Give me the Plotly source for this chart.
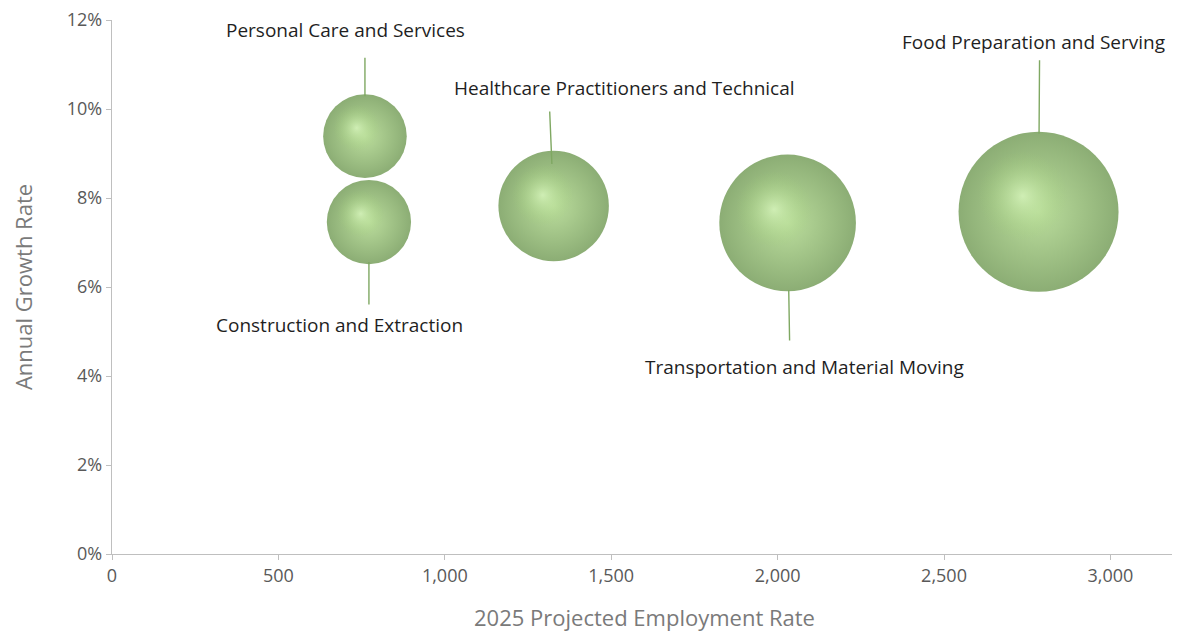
import math
import plotly.graph_objects as go

categories = ["Personal Care and Services", "Construction and Extraction",
              "Healthcare Practitioners and Technical", "Transportation and Material Moving",
              "Food Preparation and Serving"]
employment_2025 = [760, 772, 1327, 2030, 2784]
growth_rate = [0.0939, 0.0746, 0.0782, 0.0744, 0.0769]
bubble_size = [760, 772, 1327, 2030, 2784]
x_ticks = [0, 500, 1000, 1500, 2000, 2500, 3000]
y_ticks = [0, 0.02, 0.04, 0.06, 0.08, 0.10, 0.12]

# label placement (pixels): text shift, leader line tail, leader standoff
label_shift = [(-19, 106), (-29, -103), (71, 118), (17, -144), (-5, 170)]
leader_tail = [(0, -80), (0, 84), (-4, -96), (2, 119), (1, -153)]
leader_standoff = [40, 40, 42, 67, 78]

max_diam = 160
sizeref = 2 * max(bubble_size) / max_diam ** 2

X_RANGE = [0, 3200]
Y_RANGE = [0, 0.12]
FIG_W, FIG_H = 1172, 629
M_L, M_R, M_T, M_B = 104, 3, 12, 83
PLOT_W = FIG_W - M_L - M_R
PLOT_H = FIG_H - M_T - M_B

fig = go.Figure()
fig.add_trace(go.Scatter(
    x=employment_2025, y=growth_rate, mode="markers",
    marker=dict(size=bubble_size, sizemode="area", sizeref=sizeref,
                color="#5a8a39", line=dict(width=0),
                gradient=dict(type="radial", color="#9dce72")),
    text=categories, hoverinfo="text", showlegend=False))

# soft specular highlight per bubble, drawn on overlay axes offset up-left
extra_axes = {}
for i in range(len(categories)):
    r_px = math.sqrt(bubble_size[i] / sizeref) / 2
    off = 0.28 * r_px
    dx = off * (X_RANGE[1] - X_RANGE[0]) / PLOT_W
    dy = off * (Y_RANGE[1] - Y_RANGE[0]) / PLOT_H
    n = i + 2
    extra_axes[f"xaxis{n}"] = dict(range=[X_RANGE[0] + dx, X_RANGE[1] + dx], overlaying="x",
                                   visible=False, fixedrange=True)
    extra_axes[f"yaxis{n}"] = dict(range=[Y_RANGE[0] - dy, Y_RANGE[1] - dy], overlaying="y",
                                   visible=False, fixedrange=True)
    fig.add_trace(go.Scatter(
        x=[employment_2025[i]], y=[growth_rate[i]], mode="markers",
        xaxis=f"x{n}", yaxis=f"y{n}",
        marker=dict(size=[bubble_size[i]], sizemode="area", sizeref=sizeref * 3.2,
                    color="rgba(157,206,114,0)", line=dict(width=0),
                    gradient=dict(type="radial", color="rgba(224,253,198,0.95)")),
        hoverinfo="skip", showlegend=False))

label_font = dict(family="Open Sans", size=19, color="#1f1f1f")
for i, name in enumerate(categories):
    fig.add_annotation(x=employment_2025[i], y=growth_rate[i], text="",
                       showarrow=True, arrowhead=0, arrowwidth=1.4,
                       arrowcolor="#7fa862", ax=leader_tail[i][0], ay=leader_tail[i][1],
                       axref="pixel", ayref="pixel", standoff=leader_standoff[i])
    fig.add_annotation(x=employment_2025[i], y=growth_rate[i], text=name,
                       showarrow=False, xshift=label_shift[i][0], yshift=label_shift[i][1],
                       font=label_font)

tick_font = dict(family="Open Sans", size=18, color="#595959")
title_font = dict(family="Open Sans", size=22, color="#7a7a7a")
fig.update_layout(
    width=FIG_W, height=FIG_H,
    margin=dict(l=M_L, r=M_R, t=M_T, b=M_B),
    paper_bgcolor="white", plot_bgcolor="white",
    xaxis=dict(range=X_RANGE, tickvals=x_ticks, tickformat=",", showgrid=False,
               zeroline=False, showline=True, linecolor="#bfbfbf", linewidth=1.3,
               ticks="outside", ticklen=5, tickcolor="#bfbfbf", tickfont=tick_font,
               ticklabeloverflow="allow", automargin=False,
               title=dict(text="2025 Projected Employment Rate", standoff=24,
                          font=title_font)),
    yaxis=dict(range=Y_RANGE, tickvals=y_ticks, tickformat=".0%", showgrid=False,
               zeroline=False, showline=True, linecolor="#bfbfbf", linewidth=1.3,
               ticks="outside", ticklen=5, tickcolor="#bfbfbf", tickfont=tick_font,
               ticklabeloverflow="allow", automargin=False,
               title=dict(text="Annual Growth Rate", standoff=28, font=title_font)),
    **extra_axes,
)

fig.write_html("out.html")
